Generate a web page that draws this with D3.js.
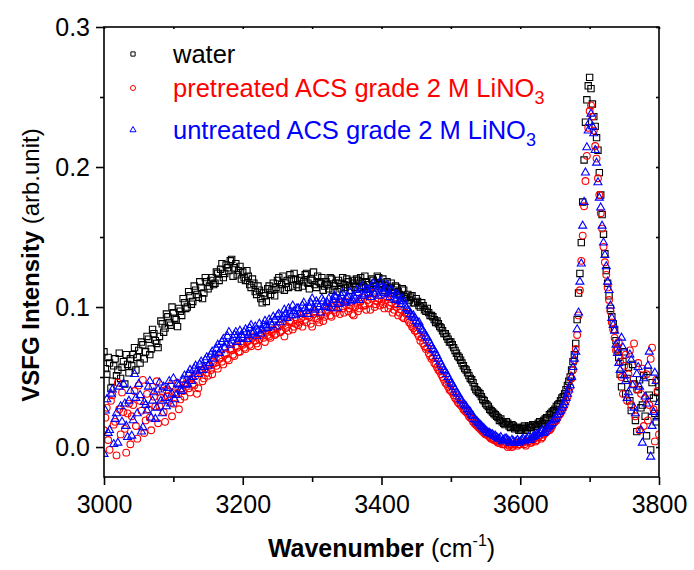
<!DOCTYPE html>
<html>
<head>
<meta charset="utf-8">
<script src="https://cdn.jsdelivr.net/npm/d3@7"></script>
<style>
  body { margin: 0; background: #fff; }
  text { font-family: Arial, "Liberation Sans", sans-serif; }
</style>
</head>
<body>
<svg width="694" height="570"></svg>
<script>
// first pass of the scan: wavenumber grid (cm-1), denser through the free OH peak
const wavenumber = [
  3000,3004,3008,3012,3016,3020,3024,3028,3032,3036,
  3040,3044,3048,3052,3056,3060,3064,3068,3072,3076,
  3080,3084,3088,3092,3096,3100,3104,3108,3112,3116,
  3120,3124,3128,3132,3136,3140,3144,3148,3152,3156,
  3160,3164,3168,3172,3176,3180,3184,3188,3192,3196,
  3200,3204,3208,3212,3216,3220,3224,3228,3232,3236,
  3240,3244,3248,3252,3256,3260,3264,3268,3272,3276,
  3280,3284,3288,3292,3296,3300,3304,3308,3312,3316,
  3320,3324,3328,3332,3336,3340,3344,3348,3352,3356,
  3360,3364,3368,3372,3376,3380,3384,3388,3392,3396,
  3400,3404,3408,3412,3416,3420,3424,3428,3432,3436,
  3440,3444,3448,3452,3456,3460,3464,3468,3472,3476,
  3480,3484,3488,3492,3496,3500,3504,3508,3512,3516,
  3520,3524,3528,3532,3536,3540,3544,3548,3552,3556,
  3560,3564,3568,3572,3576,3580,3584,3588,3592,3596,
  3600,3604,3608,3612,3616,3620,3624,3628,3632,3636,
  3640,3644,3648,3652,3656,3660,3664,3668,3672,
  3674,3676,3678,3680,3682,3684,3686,3688,3690,3692,3694,3696,3698,3700,
  3702,3704,3706,3708,3710,3712,3714,3716,3718,3720,3722,3724,3726,3728,3730,
  3732,3736,3740,3744,3748,3752,3756,3760,3764,3768,3772,3776,3780,3784,3788,3792,3796,3800
];

const water = [
  0.068,0.052,0.060,0.047,0.063,0.055,0.049,0.061,0.066,0.053,
  0.058,0.071,0.064,0.060,0.073,0.068,0.077,0.070,0.081,0.074,
  0.079,0.088,0.085,0.093,0.087,0.096,0.091,0.099,0.094,0.103,
  0.100,0.108,0.104,0.112,0.107,0.114,0.110,0.118,0.115,0.121,
  0.117,0.124,0.127,0.121,0.130,0.126,0.134,0.128,0.123,0.129,
  0.125,0.119,0.122,0.114,0.117,0.109,0.112,0.103,0.108,0.113,
  0.109,0.117,0.114,0.121,0.116,0.112,0.119,0.123,0.115,0.120,
  0.114,0.121,0.118,0.124,0.113,0.119,0.116,0.122,0.117,0.112,
  0.118,0.113,0.120,0.115,0.111,0.117,0.121,0.114,0.118,0.112,
  0.117,0.120,0.114,0.118,0.122,0.116,0.113,0.119,0.115,0.121,
  0.117,0.112,0.118,0.114,0.110,0.115,0.111,0.108,0.112,0.107,
  0.105,0.108,0.103,0.104,0.100,0.101,0.097,0.096,0.094,0.091,
  0.090,0.086,0.083,0.081,0.077,0.075,0.071,0.067,0.064,0.060,
  0.056,0.053,0.049,0.046,0.041,0.039,0.036,0.033,0.030,0.027,
  0.025,0.023,0.021,0.020,0.017,0.018,0.015,0.016,0.013,0.014,
  0.012,0.014,0.013,0.015,0.014,0.016,0.015,0.018,0.017,0.020,
  0.021,0.024,0.026,0.029,0.031,0.035,0.038,0.044,0.050,
  0.055,0.061,0.066,0.074,0.091,0.110,0.124,0.146,0.175,0.205,0.232,0.248,0.258,0.264,
  0.256,0.245,0.236,0.229,0.221,0.212,0.196,0.180,0.166,0.152,0.138,0.126,0.117,0.108,0.099,
  0.093,0.084,0.070,0.052,0.061,0.038,0.057,0.026,0.045,0.011,0.048,0.030,0.022,0.054,-0.002,0.035,0.018,0.043
];

const pretreated = [
  0.012,0.028,-0.002,0.037,0.018,0.046,0.009,0.025,-0.004,0.031,
  0.022,0.040,0.006,0.033,0.048,0.019,0.027,0.012,0.036,0.047,
  0.029,0.040,0.018,0.036,0.044,0.031,0.038,0.027,0.042,0.036,
  0.048,0.039,0.045,0.051,0.042,0.055,0.049,0.053,0.058,0.052,
  0.060,0.056,0.064,0.059,0.067,0.062,0.069,0.065,0.071,0.068,
  0.073,0.070,0.076,0.072,0.079,0.074,0.077,0.081,0.075,0.080,
  0.078,0.084,0.081,0.087,0.083,0.079,0.086,0.090,0.084,0.088,
  0.087,0.092,0.095,0.089,0.093,0.086,0.097,0.091,0.094,0.090,
  0.096,0.100,0.093,0.098,0.102,0.095,0.099,0.104,0.097,0.101,
  0.094,0.103,0.099,0.107,0.101,0.105,0.098,0.110,0.102,0.106,
  0.104,0.099,0.107,0.101,0.096,0.102,0.094,0.098,0.092,0.095,
  0.089,0.086,0.083,0.081,0.076,0.074,0.070,0.067,0.063,0.060,
  0.057,0.054,0.050,0.046,0.043,0.040,0.037,0.034,0.031,0.029,
  0.026,0.024,0.021,0.018,0.016,0.014,0.012,0.010,0.009,0.007,
  0.006,0.005,0.003,0.004,0.002,0.003,0.001,0.000,0.002,0.001,
  0.002,0.003,0.001,0.004,0.003,0.006,0.005,0.008,0.007,0.010,
  0.012,0.013,0.017,0.019,0.023,0.026,0.030,0.036,0.043,
  0.049,0.055,0.062,0.070,0.080,0.094,0.112,0.133,0.151,0.172,0.190,0.208,0.228,0.240,
  0.244,0.236,0.226,0.215,0.206,0.192,0.180,0.167,0.156,0.143,0.132,0.123,0.114,0.105,0.097,
  0.089,0.078,0.071,0.061,0.038,0.066,0.052,0.030,0.074,0.041,0.012,0.056,0.035,0.019,0.063,0.027,0.048,0.009
];

const untreated = [
  -0.005,0.034,0.012,0.041,0.020,0.003,0.029,0.045,0.015,0.033,
  0.008,0.052,0.024,0.037,0.014,0.030,0.043,0.021,0.039,0.028,
  0.046,0.024,0.035,0.042,0.031,0.049,0.037,0.044,0.040,0.051,
  0.045,0.055,0.050,0.058,0.052,0.061,0.057,0.064,0.060,0.068,
  0.066,0.073,0.069,0.077,0.074,0.082,0.076,0.080,0.075,0.083,
  0.078,0.084,0.080,0.087,0.082,0.079,0.088,0.084,0.090,0.085,
  0.089,0.093,0.086,0.095,0.091,0.098,0.092,0.096,0.101,0.094,
  0.099,0.095,0.103,0.097,0.100,0.106,0.098,0.102,0.096,0.104,
  0.100,0.106,0.102,0.108,0.099,0.105,0.110,0.103,0.107,0.104,
  0.108,0.112,0.105,0.115,0.109,0.113,0.107,0.117,0.111,0.108,
  0.114,0.110,0.116,0.107,0.111,0.105,0.108,0.102,0.104,0.099,
  0.097,0.093,0.092,0.088,0.086,0.083,0.079,0.076,0.072,0.069,
  0.065,0.061,0.057,0.054,0.050,0.046,0.043,0.039,0.036,0.033,
  0.030,0.027,0.025,0.022,0.019,0.017,0.015,0.013,0.011,0.010,
  0.009,0.008,0.006,0.007,0.005,0.006,0.004,0.005,0.003,0.005,
  0.004,0.006,0.005,0.007,0.006,0.008,0.009,0.010,0.012,0.011,
  0.014,0.016,0.019,0.021,0.025,0.028,0.032,0.038,0.044,
  0.050,0.057,0.063,0.068,0.084,0.096,0.118,0.131,0.158,0.175,0.196,0.214,0.226,0.232,
  0.238,0.229,0.224,0.212,0.203,0.189,0.178,0.171,0.158,0.146,0.137,0.129,0.118,0.112,0.101,
  0.092,0.083,0.067,0.055,0.071,0.047,0.039,0.062,0.028,0.052,0.043,0.003,0.036,0.058,-0.007,0.025,0.047,0.032
];

// second pass of the scan, interleaved between the first-pass points
const wavenumberB = [
  3002,3006,3010,3014,3018,3022,3026,3030,3034,3038,
  3042,3046,3050,3054,3058,3062,3066,3070,3074,3078,
  3082,3086,3090,3094,3098,3102,3106,3110,3114,3118,
  3122,3126,3130,3134,3138,3142,3146,3150,3154,3158,
  3162,3166,3170,3174,3178,3182,3186,3190,3194,3198,
  3202,3206,3210,3214,3218,3222,3226,3230,3234,3238,
  3242,3246,3250,3254,3258,3262,3266,3270,3274,3278,
  3282,3286,3290,3294,3298,3302,3306,3310,3314,3318,
  3322,3326,3330,3334,3338,3342,3346,3350,3354,3358,
  3362,3366,3370,3374,3378,3382,3386,3390,3394,3398,
  3402,3406,3410,3414,3418,3422,3426,3430,3434,3438,
  3442,3446,3450,3454,3458,3462,3466,3470,3474,3478,
  3482,3486,3490,3494,3498,3502,3506,3510,3514,3518,
  3522,3526,3530,3534,3538,3542,3546,3550,3554,3558,
  3562,3566,3570,3574,3578,3582,3586,3590,3594,3598,
  3602,3606,3610,3614,3618,3622,3626,3630,3634,3638,
  3642,3646,3650,3654,3658,3662,3666,3670,
  3734,3738,3742,3746,3750,3754,3758,3762,3766,3770,3774,3778,3782,3786,3790,3794,3798
];

const waterB = [
  0.056,0.064,0.042,0.058,0.051,0.067,0.057,0.045,0.059,0.063,
  0.066,0.055,0.069,0.075,0.063,0.079,0.066,0.084,0.076,0.071,
  0.090,0.082,0.095,0.089,0.100,0.092,0.086,0.097,0.106,0.099,
  0.111,0.102,0.115,0.109,0.118,0.106,0.121,0.113,0.119,0.116,
  0.125,0.119,0.131,0.124,0.128,0.133,0.122,0.131,0.126,0.120,
  0.121,0.126,0.116,0.120,0.111,0.115,0.106,0.110,0.104,0.115,
  0.112,0.108,0.119,0.113,0.122,0.117,0.114,0.120,0.124,0.116,
  0.119,0.115,0.123,0.117,0.120,0.125,0.114,0.118,0.121,0.115,
  0.116,0.121,0.112,0.117,0.119,0.113,0.116,0.120,0.115,0.119,
  0.114,0.119,0.121,0.115,0.118,0.113,0.120,0.117,0.122,0.116,
  0.120,0.115,0.113,0.117,0.112,0.114,0.109,0.113,0.106,0.109,
  0.107,0.103,0.106,0.101,0.103,0.098,0.099,0.094,0.093,0.089,
  0.088,0.085,0.081,0.079,0.075,0.073,0.069,0.065,0.062,0.058,
  0.055,0.051,0.048,0.043,0.040,0.038,0.034,0.031,0.029,0.026,
  0.024,0.022,0.019,0.018,0.016,0.017,0.014,0.015,0.014,0.012,
  0.013,0.015,0.012,0.014,0.016,0.015,0.017,0.016,0.019,0.021,
  0.023,0.025,0.027,0.030,0.033,0.036,0.041,0.047,
  0.088,0.076,0.064,0.043,0.068,0.049,0.033,0.059,0.019,0.041,0.028,0.051,0.008,0.037,0.046,0.024,0.039
];

const pretreatedB = [
  0.021,0.005,0.033,0.016,-0.006,0.027,0.039,0.013,0.024,0.002,
  0.030,0.015,0.044,0.026,0.010,0.038,0.021,0.043,0.029,0.017,
  0.035,0.025,0.041,0.033,0.022,0.039,0.046,0.034,0.040,0.045,
  0.042,0.049,0.044,0.038,0.053,0.047,0.056,0.051,0.055,0.061,
  0.058,0.063,0.061,0.066,0.063,0.070,0.066,0.072,0.068,0.074,
  0.071,0.075,0.073,0.078,0.076,0.072,0.080,0.078,0.083,0.079,
  0.082,0.080,0.085,0.082,0.088,0.085,0.083,0.089,0.086,0.091,
  0.089,0.086,0.091,0.094,0.088,0.095,0.092,0.089,0.096,0.093,
  0.098,0.094,0.100,0.096,0.099,0.103,0.096,0.101,0.099,0.095,
  0.100,0.097,0.104,0.101,0.098,0.103,0.106,0.100,0.104,0.101,
  0.102,0.105,0.099,0.103,0.098,0.100,0.096,0.093,0.096,0.091,
  0.088,0.085,0.083,0.079,0.078,0.072,0.071,0.065,0.064,0.059,
  0.055,0.052,0.048,0.045,0.041,0.039,0.035,0.032,0.030,0.027,
  0.025,0.022,0.020,0.017,0.015,0.013,0.011,0.009,0.008,0.006,
  0.005,0.004,0.003,0.002,0.002,0.000,0.002,0.001,0.003,0.002,
  0.003,0.002,0.004,0.003,0.005,0.004,0.007,0.006,0.009,0.011,
  0.012,0.015,0.018,0.021,0.024,0.028,0.033,0.040,
  0.084,0.069,0.075,0.050,0.058,0.033,0.069,0.045,0.022,0.060,0.038,0.015,0.052,0.030,0.071,0.004,0.040
];

const untreatedB = [
  0.026,0.010,0.038,0.002,0.024,0.043,0.018,0.031,0.007,0.040,
  0.019,0.035,0.045,0.011,0.032,0.026,0.047,0.033,0.020,0.041,
  0.033,0.043,0.029,0.047,0.038,0.034,0.045,0.041,0.048,0.044,
  0.052,0.047,0.056,0.054,0.059,0.055,0.062,0.058,0.066,0.063,
  0.070,0.067,0.075,0.071,0.079,0.073,0.078,0.082,0.077,0.080,
  0.082,0.077,0.085,0.081,0.086,0.083,0.081,0.087,0.086,0.091,
  0.087,0.091,0.094,0.089,0.093,0.095,0.099,0.094,0.097,0.099,
  0.096,0.101,0.099,0.095,0.103,0.099,0.104,0.100,0.106,0.101,
  0.103,0.099,0.105,0.107,0.102,0.108,0.104,0.106,0.111,0.105,
  0.106,0.110,0.113,0.108,0.112,0.110,0.115,0.109,0.113,0.118,
  0.111,0.113,0.109,0.112,0.106,0.109,0.104,0.106,0.101,0.098,
  0.095,0.094,0.090,0.089,0.084,0.081,0.078,0.074,0.070,0.067,
  0.063,0.059,0.055,0.052,0.048,0.045,0.041,0.038,0.034,0.031,
  0.029,0.026,0.023,0.020,0.018,0.016,0.014,0.012,0.010,0.009,
  0.008,0.007,0.006,0.004,0.006,0.005,0.003,0.004,0.004,0.003,
  0.005,0.004,0.006,0.005,0.007,0.008,0.009,0.011,0.010,0.013,
  0.015,0.017,0.020,0.023,0.026,0.030,0.035,0.041,
  0.087,0.073,0.060,0.078,0.051,0.035,0.066,0.044,0.024,0.057,0.012,0.049,0.031,0.068,0.015,0.053,0.021
];

const seriesNames = ["water", "pretreated ACS grade 2 M LiNO", "untreated ACS grade 2 M LiNO"];
const seriesColors = ["#000000", "#ff0000", "#0000ff"];
const xMajor = [3000, 3200, 3400, 3600, 3800];
const xMinor = [3100, 3300, 3500, 3700];
const yMajor = [0.0, 0.1, 0.2, 0.3];
const yMinor = [0.05, 0.15, 0.25];

const plotLeft = 104, plotRight = 659, plotTop = 27, plotBottom = 477;

const svg = d3.select("svg");

const x = d3.scaleLinear().domain([3000, 3800]).range([plotLeft, plotRight]);
const y = d3.scaleLinear().domain([-0.0214, 0.3]).range([plotBottom, plotTop]);

// data points, clipped to the frame
svg.append("clipPath").attr("id", "plotclip")
  .append("rect").attr("x", plotLeft).attr("y", plotTop)
  .attr("width", plotRight - plotLeft).attr("height", plotBottom - plotTop);

const plot = svg.append("g").attr("clip-path", "url(#plotclip)");

const symbols = [
  d3.symbol().type(d3.symbolSquare).size(40),
  d3.symbol().type(d3.symbolCircle).size(36),
  d3.symbol().type(d3.symbolTriangle).size(28)
];
const passA = [water, pretreated, untreated];
const passB = [waterB, pretreatedB, untreatedB];

passA.forEach((vals, i) => {
  const pts = vals.map((v, j) => [wavenumber[j], v])
    .concat(passB[i].map((v, j) => [wavenumberB[j], v]));
  plot.append("g").selectAll("path")
    .data(pts)
    .enter().append("path")
    .attr("transform", d => `translate(${x(d[0])},${y(d[1])})`)
    .attr("d", symbols[i])
    .attr("fill", "none")
    .attr("stroke", seriesColors[i])
    .attr("stroke-width", 1.1);
});

// frame
svg.append("rect")
  .attr("x", plotLeft).attr("y", plotTop)
  .attr("width", plotRight - plotLeft).attr("height", plotBottom - plotTop)
  .attr("fill", "none").attr("stroke", "#000").attr("stroke-width", 1.6);

// bottom axis
svg.append("g").attr("transform", `translate(0,${plotBottom})`)
  .call(d3.axisBottom(x).tickValues(xMajor).tickSize(8).tickPadding(10).tickFormat(d3.format("d")));
svg.append("g").attr("transform", `translate(0,${plotBottom})`)
  .call(d3.axisBottom(x).tickValues(xMinor).tickSize(5).tickFormat(""));

// left axis
svg.append("g").attr("transform", `translate(${plotLeft},0)`)
  .call(d3.axisLeft(y).tickValues(yMajor).tickSize(8).tickPadding(6).tickFormat(d3.format(".1f")));
svg.append("g").attr("transform", `translate(${plotLeft},0)`)
  .call(d3.axisLeft(y).tickValues(yMinor).tickSize(4).tickFormat(""));

// mirrored ticks on top and right, pointing inward
svg.append("g").attr("transform", `translate(0,${plotTop})`)
  .call(d3.axisBottom(x).tickValues(xMajor.concat(xMinor)).tickSize(2).tickFormat(""));
svg.append("g").attr("transform", `translate(${plotRight},0)`)
  .call(d3.axisLeft(y).tickValues(yMajor.concat(yMinor)).tickSize(3).tickFormat(""));

svg.selectAll(".domain").remove();
svg.selectAll(".tick line").attr("stroke", "#000").attr("stroke-width", 1.6);
svg.selectAll(".tick text").attr("font-size", 25).attr("fill", "#000")
  .attr("font-family", "Arial, 'Liberation Sans', sans-serif");

// axis titles
const xt = svg.append("text").attr("x", (plotLeft + plotRight) / 2).attr("y", 557)
  .attr("text-anchor", "middle").attr("font-size", 25);
xt.append("tspan").attr("font-weight", "bold").text("Wavenumber");
xt.append("tspan").text(" (cm");
xt.append("tspan").attr("font-size", 16).attr("dy", -11).text("-1");
xt.append("tspan").attr("dy", 11).text(")");

const yt = svg.append("text")
  .attr("transform", "translate(39,265) rotate(-90)")
  .attr("text-anchor", "middle").attr("font-size", 24);
yt.append("tspan").attr("font-weight", "bold").text("VSFG Intensity");
yt.append("tspan").text(" (arb.unit)");

// legend
const legendY = [54, 88, 130];
const legendSymbols = [
  d3.symbol().type(d3.symbolSquare).size(18),
  d3.symbol().type(d3.symbolCircle).size(20),
  d3.symbol().type(d3.symbolTriangle).size(16)
];
seriesNames.forEach((name, i) => {
  svg.append("path")
    .attr("transform", `translate(133,${legendY[i]})`)
    .attr("d", legendSymbols[i])
    .attr("fill", "none").attr("stroke", seriesColors[i]).attr("stroke-width", 1);
  const t = svg.append("text").attr("x", 173).attr("y", legendY[i] + 9)
    .attr("font-size", 25.5).attr("fill", seriesColors[i]);
  t.append("tspan").text(name);
  if (i > 0) t.append("tspan").attr("font-size", 18).attr("dy", 7).text("3");
});
</script>
</body>
</html>
